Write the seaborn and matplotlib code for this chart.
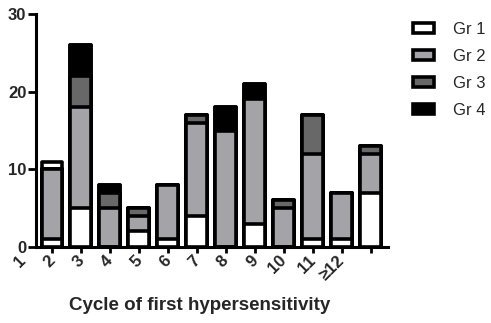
import numpy as np
import pandas as pd
import matplotlib
matplotlib.use("Agg")
import matplotlib.pyplot as plt
import seaborn as sns
from matplotlib.patches import Patch

# tick labels (drawn one slot to the left of the bars, as in the source figure)
cycle_labels = ["1", "2", "3", "4", "5", "6", "7", "8", "9", "10", "11", "\u226512"]
bar_ids = [f"b{i}" for i in range(12)]

# stacked counts per bar, bottom to top
gr1 = [1, 5, 0, 2, 1, 4, 0, 3, 0, 1, 1, 7]
gr2 = [9, 13, 5, 2, 7, 12, 15, 16, 5, 11, 6, 5]
gr3 = [0, 4, 2, 1, 0, 1, 0, 0, 1, 5, 0, 1]
gr4 = [0, 4, 1, 0, 0, 0, 3, 2, 0, 0, 0, 0]
extra = [1, 0, 0, 0, 0, 0, 0, 0, 0, 0, 0, 0]  # white cap on first bar

group_names = ["Gr 1", "Gr 2", "Gr 3", "Gr 4"]
colors = ["#ffffff", "#a3a3a8", "#686868", "#000000"]


def main():
    sns.set_style("ticks")
    plt.rcParams["font.family"] = ["Liberation Sans", "DejaVu Sans"]

    fig = plt.figure(figsize=(4.91, 3.23), dpi=100)
    ax = fig.add_axes([36 / 491, 76 / 323, 352 / 491, 233 / 323])

    layers = [gr1, gr2, gr3, gr4, extra]
    layer_colors = colors + ["#ffffff"]
    cum = np.cumsum(np.array(layers), axis=0)

    # draw cumulative totals from the top layer down so each segment shows
    for k in range(len(layers) - 1, -1, -1):
        df = pd.DataFrame({"bar": bar_ids, "value": cum[k]})
        sns.barplot(data=df, x="bar", y="value", order=bar_ids,
                    color=layer_colors[k], saturation=1, width=0.72,
                    edgecolor="black", linewidth=2.6, errorbar=None, ax=ax)
    for p in ax.patches:
        p.set_joinstyle("round")

    ax.set_xlim(-0.55, 11.6)
    ax.set_ylim(0, 30)
    ax.set_yticks([0, 10, 20, 30])
    ax.set_xticks(range(12))
    ax.set_xticklabels([])
    ax.set_xlabel("")
    ax.set_ylabel("")
    for lab in ax.get_yticklabels():
        lab.set_fontweight("bold")
    ax.tick_params(axis="y", labelsize=12, length=6, width=2, pad=1, color="black")
    ax.tick_params(axis="x", length=4, width=2, color="black")
    sns.despine(ax=ax)
    for s in ["left", "bottom"]:
        ax.spines[s].set_linewidth(2.2)
        ax.spines[s].set_color("black")

    # shifted rotated labels
    for i, lab in enumerate(cycle_labels):
        ax.text(i - 1 + 0.02, -0.048, lab, transform=ax.get_xaxis_transform(),
                rotation=45, rotation_mode="anchor", ha="right", va="center",
                fontsize=12, fontweight="bold", clip_on=False)

    fig.text(200 / 491, 1 - 305 / 323, "Cycle of first hypersensitivity",
             ha="center", va="center", fontsize=13.5, fontweight="bold")

    handles = [Patch(facecolor=c, edgecolor="black", linewidth=2.6, label=n)
               for c, n in zip(colors, group_names)]
    fig.legend(handles=handles, loc="upper left",
               bbox_to_anchor=(406 / 491, 1 - 15 / 323), frameon=False,
               fontsize=12, handlelength=1.3, handleheight=0.6,
               handletextpad=1.1, labelspacing=0.72, borderaxespad=0)

    fig.savefig("out.png", dpi=100)
    plt.close(fig)


if __name__ == "__main__":
    main()
